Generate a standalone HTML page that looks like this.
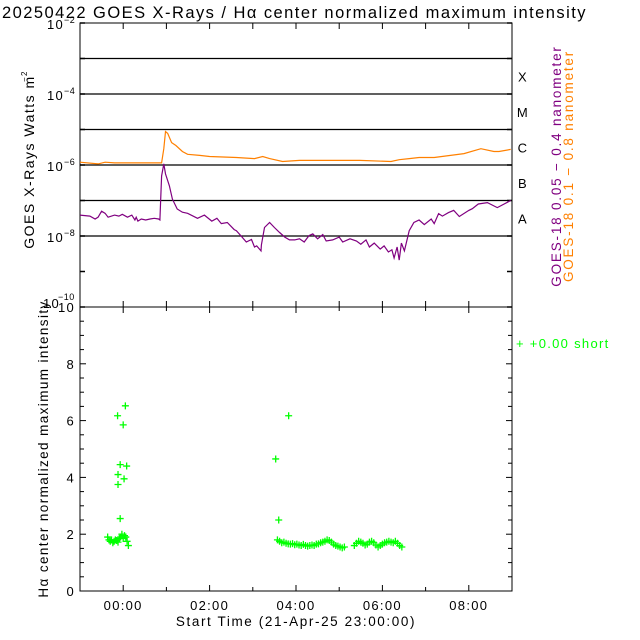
<!DOCTYPE html>
<html><head><meta charset="utf-8"><style>
html,body{margin:0;padding:0;background:#fff;}
svg{display:block;font-family:"Liberation Sans",sans-serif;}
text{letter-spacing:1.3px;}
</style></head><body>
<svg id="c" width="640" height="640" viewBox="0 0 640 640"></svg>
<script>
// ---- data ----
const orangeT=[-1,-0.58,-0.42,-0.2,0.38,0.89,0.94,0.98,1.03,1.12,1.22,1.37,1.49,1.77,2.0,2.62,3.04,3.23,3.39,3.69,4.08,4.54,5.48,6.2,6.39,6.62,6.85,7.2,7.89,8.28,8.58,8.7,8.97];
const orangeV=[-5.92,-5.97,-5.92,-5.94,-5.94,-5.94,-5.54,-5.06,-5.11,-5.37,-5.45,-5.62,-5.7,-5.73,-5.76,-5.79,-5.82,-5.76,-5.82,-5.9,-5.87,-5.87,-5.87,-5.9,-5.85,-5.82,-5.79,-5.79,-5.68,-5.54,-5.62,-5.62,-5.56];
const purpleT=[-1,-0.77,-0.65,-0.58,-0.5,-0.42,-0.35,-0.2,-0.1,-0.02,0.1,0.2,0.27,0.3,0.34,0.42,0.52,0.62,0.72,0.82,0.85,0.89,0.94,0.98,1.07,1.14,1.25,1.37,1.49,1.72,1.88,2.05,2.17,2.27,2.41,2.57,2.62,2.73,2.85,2.97,3.04,3.09,3.19,3.2,3.27,3.39,3.5,3.62,3.74,3.85,3.97,4.08,4.19,4.3,4.39,4.5,4.62,4.7,4.85,5.0,5.08,5.25,5.4,5.5,5.62,5.7,5.81,5.95,6.04,6.14,6.22,6.27,6.34,6.39,6.44,6.51,6.62,6.73,6.85,6.97,7.13,7.2,7.3,7.39,7.53,7.65,7.78,8.0,8.08,8.22,8.43,8.66,8.97];
const purpleV=[-7.41,-7.44,-7.52,-7.47,-7.3,-7.36,-7.47,-7.41,-7.44,-7.39,-7.47,-7.41,-7.55,-7.47,-7.58,-7.52,-7.55,-7.52,-7.5,-7.52,-7.55,-6.31,-5.97,-6.25,-6.59,-6.96,-7.24,-7.33,-7.36,-7.5,-7.41,-7.58,-7.5,-7.65,-7.62,-7.82,-7.85,-8.0,-8.17,-8.1,-8.31,-8.28,-8.42,-8.25,-7.76,-7.62,-7.76,-7.9,-8.03,-8.11,-8.11,-8.08,-8.17,-7.99,-7.94,-8.08,-7.96,-8.14,-8.11,-8.03,-8.17,-8.08,-8.14,-8.23,-8.11,-8.31,-8.2,-8.37,-8.28,-8.45,-8.39,-8.62,-8.31,-8.68,-8.2,-8.42,-7.85,-7.62,-7.55,-7.68,-7.52,-7.65,-7.37,-7.44,-7.34,-7.28,-7.45,-7.28,-7.23,-7.1,-7.06,-7.2,-7.0];
const greenT=[-0.36,-0.33,-0.3,-0.27,-0.24,-0.21,-0.18,-0.15,-0.12,-0.09,-0.06,-0.03,0,0.03,0.06,0.09,0.12,
-0.13,0.05,0.0,-0.07,-0.12,-0.12,0.02,0.08,-0.07,
3.53,3.83,3.6,
3.57,3.62,3.67,3.72,3.77,3.82,3.87,3.92,3.97,4.02,4.07,4.12,4.17,4.22,4.27,4.32,4.37,4.42,4.47,4.52,4.57,4.62,4.67,4.72,4.77,4.82,4.87,4.92,4.97,5.02,5.07,5.12,
5.35,5.4,5.45,5.5,5.55,5.6,5.65,5.7,5.75,5.8,5.85,5.9,5.95,6.0,6.05,6.1,6.15,6.2,6.25,6.3,6.35,6.4,6.45,6.5];
const greenV=[1.9,1.8,1.75,1.8,1.7,1.75,1.8,1.78,1.72,1.85,1.9,2.0,1.85,1.95,1.9,1.75,1.6,
6.17,6.52,5.85,4.45,4.1,3.75,3.95,4.4,2.55,
4.65,6.17,2.5,
1.8,1.75,1.7,1.72,1.68,1.66,1.65,1.67,1.63,1.65,1.62,1.6,1.64,1.6,1.58,1.6,1.62,1.6,1.65,1.66,1.7,1.72,1.75,1.8,1.78,1.72,1.65,1.6,1.58,1.55,1.52,
1.55,1.6,1.68,1.75,1.72,1.68,1.62,1.65,1.72,1.75,1.7,1.62,1.55,1.6,1.65,1.7,1.72,1.75,1.72,1.7,1.75,1.68,1.6,1.55];
const xTickLabels=["00:00","02:00","04:00","06:00","08:00"];
const xTickHours=[0,2,4,6,8];
const yTopExps=[-2,-4,-6,-8,-10];
const yBotLabels=[0,2,4,6,8,10];
const classLabels=["X","M","C","B","A"];

// ---- scales ----
const L=80,R=512,T1=23,B1=307,T2=307,B2=591;
const xs=t=>L+(t+1)/10*(R-L);
const yTop=lg=>T1+(-2-lg)/8*(B1-T1);
const yBot=v=>B2-v/10*(B2-T2);
const NS="http://www.w3.org/2000/svg";
const svg=document.getElementById('c');
function mk(tag,a,parent){const e=document.createElementNS(NS,tag);for(const k in a)e.setAttribute(k,a[k]);(parent||svg).appendChild(e);return e;}
function txt(s,a,name){const e=mk('text',a);e.textContent=s;


return e;}

// title
txt("20250422 GOES X-Rays / H\u03b1 center normalized maximum intensity",{x:2,y:18,'font-size':16.5,fill:'#000',style:'letter-spacing:1.45px'},'chart-title');

// top panel class lines
for(let e=-3;e>=-8;e--){const l=mk('line',{x1:L,x2:R,y1:yTop(e),y2:yTop(e),stroke:'#000','stroke-width':1.3});

}
// frames
[[T1,B1],[T2,B2]].forEach((p,i)=>{const r=mk('rect',{x:L,y:p[0],width:R-L,height:p[1]-p[0],fill:'none',stroke:'#000','stroke-width':1});

});
// x ticks
for(let h=0;h<=8;h++){const x=xs(h);const big=h%2===0;
mk('line',{x1:x,x2:x,y1:T1,y2:T1+6,stroke:'#000'});mk('line',{x1:x,x2:x,y1:B1,y2:B1-6,stroke:'#000'});
mk('line',{x1:x,x2:x,y1:T2,y2:T2+(big?6:4),stroke:'#000'});mk('line',{x1:x,x2:x,y1:B2,y2:B2-(big?6:4),stroke:'#000'});}
xTickHours.forEach((h,i)=>{txt(xTickLabels[i],{x:xs(h),y:610,'font-size':13,'text-anchor':'middle'},'x-tick-label');});
txt("Start Time (21-Apr-25 23:00:00)",{x:296,y:626,'font-size':13.5,'text-anchor':'middle',style:'letter-spacing:1.6px'},'x-axis-title');
// top y ticks
for(let e=-2;e>=-10;e--){const y=yTop(e);mk('line',{x1:L,x2:L+5,y1:y,y2:y,stroke:'#000','stroke-width':1.5});mk('line',{x1:R,x2:R-5,y1:y,y2:y,stroke:'#000','stroke-width':1.5});}
yTopExps.forEach(e=>{const y=yTop(e);const last=e===-10;
txt("10",{x:last?60:64,y:y+(last?1:6),'font-size':13,'text-anchor':'end'},'y-tick-label');
txt(String(e).replace('-','\u2212'),{x:last?58:64,y:y+(last?-7:0),'font-size':9,'text-anchor':'start',style:'letter-spacing:0.5px'},'y-tick-exponent');});
txt("GOES X-Rays Watts m",{x:0,y:0,'font-size':14,'text-anchor':'middle',transform:'translate(34,162) rotate(-90)',style:'letter-spacing:1.5px'},'top-y-axis-title');
txt("\u22122",{x:0,y:0,'font-size':8,transform:'translate(27,82) rotate(-90)'},'top-y-axis-title-exp');
classLabels.forEach((c,i)=>{txt(c,{x:523,y:(yTop(-3-i)+yTop(-4-i))/2+5,'font-size':13,'text-anchor':'middle'},'flare-class-label');});
txt("GOES-18 0.05 \u2212 0.4 nanometer",{x:0,y:0,'font-size':13.5,fill:'#800080','text-anchor':'middle',transform:'translate(561,166) rotate(-90)',style:'letter-spacing:1.8px'},'legend-goes-short');
txt("GOES-18  0.1 \u2212 0.8 nanometer",{x:0,y:0,'font-size':13.5,fill:'#ff8000','text-anchor':'middle',transform:'translate(573,166) rotate(-90)',style:'letter-spacing:1.8px'},'legend-goes-long');

// series
function line(T,V,color,name){const d=T.map((t,i)=>(i?'L':'M')+xs(t).toFixed(1)+','+yTop(V[i]).toFixed(1)).join('');
const p=mk('path',{d,fill:'none',stroke:color,'stroke-width':1.2});

}
line(orangeT,orangeV,'#ff8000','goes-long-line');
line(purpleT,purpleV,'#800080','goes-short-line');

// bottom y axis
for(let v=0;v<=10;v+=0.5){const y=yBot(v);const big=v%2===0;
mk('line',{x1:L,x2:L+(big?6:4),y1:y,y2:y,stroke:'#000'});mk('line',{x1:R,x2:R-(big?6:4),y1:y,y2:y,stroke:'#000'});}
yBotLabels.forEach(v=>{txt(String(v),{x:75,y:yBot(v)+5,'font-size':13,'text-anchor':'end'},'bottom-y-tick-label');});
txt("H\u03b1 center normalized maximum intensity",{x:0,y:0,'font-size':13.5,'text-anchor':'middle',transform:'translate(48,449) rotate(-90)',style:'letter-spacing:1.4px'},'bottom-y-axis-title');

// green markers
greenT.forEach((t,i)=>{const x=xs(t),y=yBot(greenV[i]);
const p=mk('path',{d:`M${x-3.5},${y}H${x+3.5}M${x},${y-3.5}V${y+3.5}`,stroke:'#00ff00','stroke-width':1.3});

});
txt("+  +0.00 short",{x:516,y:348,'font-size':13,fill:'#00ff00'},'legend-halpha');
</script>
</body></html>
